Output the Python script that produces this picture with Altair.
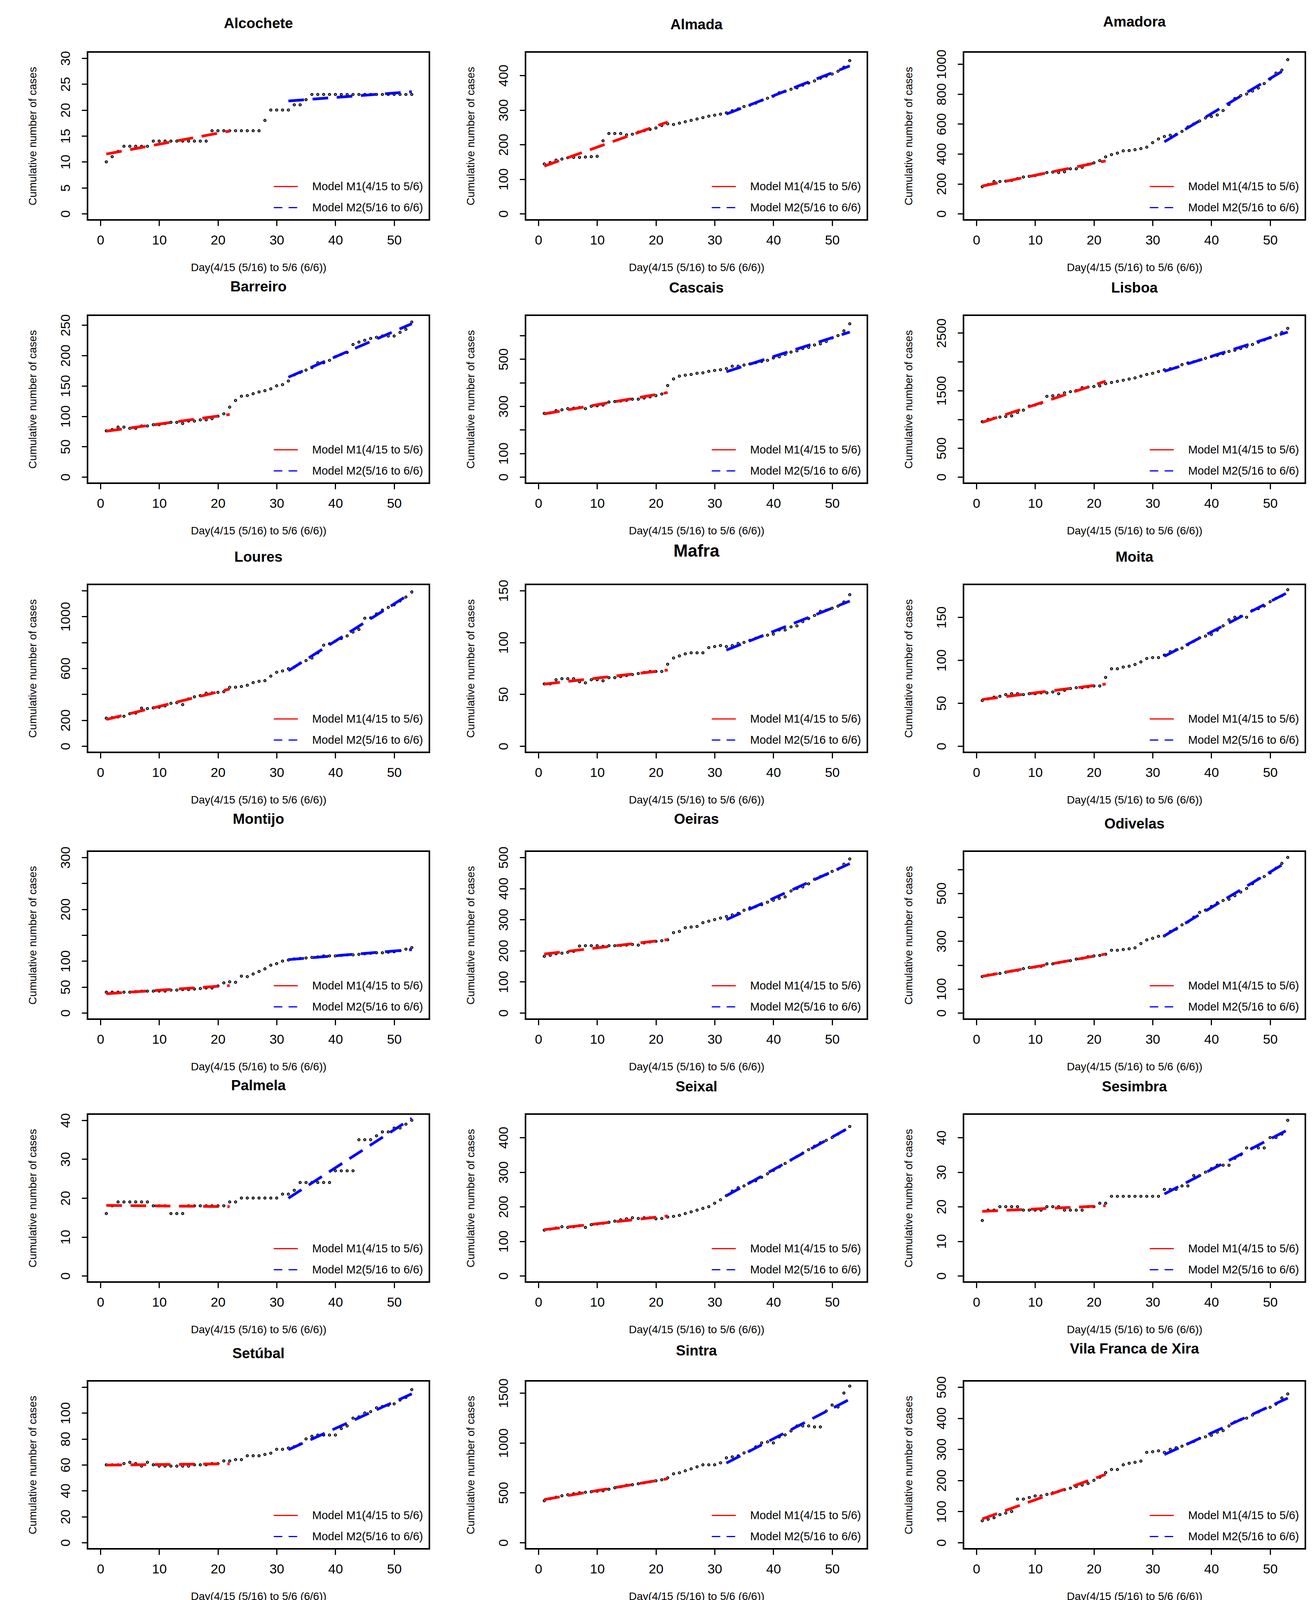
import altair as alt
import pandas as pd

days = list(range(1, 54))

names = ["Alcochete", "Almada", "Amadora",
         "Barreiro", "Cascais", "Lisboa",
         "Loures", "Mafra", "Moita",
         "Montijo", "Oeiras", "Odivelas",
         "Palmela", "Seixal", "Sesimbra",
         "Setúbal", "Sintra", "Vila Franca de Xira"]

alcochete = [10, 11, 12, 13, 13, 13, 13, 13, 14, 14, 14, 14, 14, 14, 14, 14, 14, 14, 16, 16,
             16, 16, 16, 16, 16, 16, 16, 18, 20, 20, 20, 20, 21, 21, 22, 23, 23, 23, 23, 23,
             23, 23, 23, 23, 23, 23, 23, 23, 23, 23, 23, 23, 23]
almada = [144, 148, 155, 158, 162, 163, 163, 164, 165, 166, 211, 232, 232, 232, 228, 230, 236, 240, 244, 248,
          255, 260, 258, 262, 266, 270, 274, 278, 282, 285, 288, 292, 298, 303, 310, 314, 320, 328, 334, 340,
          350, 354, 360, 364, 372, 378, 384, 392, 398, 404, 412, 424, 443]
amadora = [180, 195, 215, 215, 218, 222, 235, 245, 250, 255, 265, 275, 278, 275, 280, 300, 300, 310, 330, 340,
           355, 380, 395, 405, 420, 422, 428, 435, 445, 475, 500, 516, 525, 530, 550, 580, 600, 620, 640, 650,
           660, 690, 730, 770, 790, 800, 820, 840, 870, 900, 940, 960, 1030]
barreiro = [76, 78, 82, 82, 80, 80, 84, 84, 86, 86, 88, 90, 90, 88, 92, 92, 94, 94, 96, 100,
            104, 115, 126, 133, 134, 137, 140, 142, 145, 150, 152, 158, 168, 172, 176, 180, 188, 188, 192, 198,
            202, 205, 218, 222, 225, 228, 230, 232, 232, 232, 238, 243, 255]
cascais = [270, 272, 282, 285, 290, 292, 295, 290, 300, 302, 305, 318, 320, 322, 325, 330, 330, 335, 340, 345,
           352, 388, 416, 428, 432, 435, 440, 442, 448, 452, 455, 460, 470, 470, 475, 480, 485, 490, 495, 505,
           510, 520, 530, 535, 545, 550, 560, 565, 575, 590, 600, 620, 650]
lisboa = [960, 1000, 1020, 1040, 1050, 1060, 1120, 1160, 1230, 1250, 1280, 1400, 1410, 1420, 1460, 1480, 1500, 1550, 1560, 1570,
          1580, 1620, 1640, 1660, 1680, 1700, 1720, 1750, 1780, 1800, 1830, 1860, 1880, 1900, 1950, 1980, 2000, 2030, 2060, 2090,
          2110, 2140, 2180, 2200, 2230, 2260, 2300, 2340, 2380, 2420, 2460, 2510, 2580]
loures = [216, 220, 225, 230, 250, 255, 293, 290, 295, 300, 310, 330, 335, 320, 364, 380, 390, 408, 410, 415,
          420, 454, 455, 460, 470, 490, 500, 505, 540, 570, 580, 597, 610, 640, 660, 680, 720, 779, 790, 810,
          830, 850, 880, 900, 987, 990, 1020, 1050, 1070, 1090, 1120, 1150, 1190]
mafra = [60, 60, 64, 65, 65, 65, 62, 61, 64, 64, 63, 66, 66, 67, 68, 69, 70, 71, 72, 72,
         72, 79, 85, 87, 89, 90, 90, 90, 95, 96, 97, 96, 97, 99, 100, 102, 104, 106, 107, 108,
         112, 112, 115, 116, 120, 123, 126, 130, 131, 133, 135, 139, 146]
moita = [53, 55, 57, 58, 60, 61, 61, 60, 61, 61, 62, 62, 63, 61, 65, 67, 68, 68, 69, 70,
         70, 80, 90, 90, 92, 93, 95, 98, 102, 103, 103, 106, 110, 112, 114, 118, 122, 126, 128, 130,
         135, 140, 147, 150, 151, 150, 158, 160, 163, 168, 172, 175, 182]
montijo = [40, 40, 40, 40, 40, 41, 42, 42, 42, 42, 42, 44, 44, 45, 45, 46, 47, 48, 48, 52,
           58, 60, 59, 71, 70, 75, 80, 85, 92, 95, 100, 102, 104, 105, 106, 107, 108, 110, 110, 110,
           111, 112, 112, 113, 114, 115, 116, 116, 117, 118, 120, 123, 126]
oeiras = [182, 185, 190, 192, 195, 198, 215, 216, 216, 216, 214, 216, 216, 217, 218, 220, 218, 225, 228, 230,
          232, 235, 258, 262, 274, 276, 278, 290, 295, 300, 305, 310, 315, 320, 330, 338, 342, 348, 356, 362,
          368, 373, 392, 400, 405, 415, 430, 438, 445, 455, 462, 478, 495]
odivelas = [152, 158, 162, 165, 170, 175, 178, 185, 190, 192, 195, 205, 205, 210, 215, 218, 225, 228, 235, 238,
            240, 245, 262, 262, 265, 268, 272, 290, 305, 312, 320, 322, 340, 350, 368, 380, 400, 420, 430, 445,
            460, 470, 475, 490, 505, 520, 540, 560, 570, 585, 605, 625, 650]
palmela = [16, 18, 19, 19, 19, 19, 19, 19, 18, 18, 18, 16, 16, 16, 18, 18, 18, 18, 18, 18,
           18, 19, 19, 20, 20, 20, 20, 20, 20, 20, 21, 21, 22, 24, 24, 24, 24, 24, 24, 27,
           27, 27, 27, 35, 35, 35, 36, 37, 37, 38, 38, 39, 40]
seixal = [132, 135, 138, 142, 140, 142, 145, 140, 148, 150, 152, 155, 158, 162, 165, 168, 166, 168, 168, 165,
          166, 170, 172, 175, 180, 185, 190, 195, 200, 210, 220, 232, 245, 255, 260, 270, 275, 285, 295, 305,
          315, 325, 335, 345, 355, 365, 375, 385, 392, 400, 410, 420, 432]
sesimbra = [16, 19, 19, 20, 20, 20, 20, 19, 19, 19, 19, 20, 20, 20, 19, 19, 19, 19, 20, 20,
            21, 21, 23, 23, 23, 23, 23, 23, 23, 23, 23, 25, 25, 25, 26, 26, 29, 29, 30, 31,
            32, 32, 32, 34, 35, 37, 37, 37, 37, 40, 40, 41, 45]
setubal = [60, 60, 60, 61, 62, 61, 59, 62, 60, 59, 59, 59, 59, 59, 59, 60, 60, 60, 61, 61,
           63, 63, 64, 64, 67, 67, 67, 68, 69, 72, 72, 73, 74, 76, 80, 82, 83, 83, 83, 83,
           88, 90, 96, 97, 100, 101, 104, 105, 106, 107, 110, 112, 118]
sintra = [420, 440, 455, 470, 480, 490, 500, 505, 510, 515, 520, 535, 550, 560, 575, 580, 590, 600, 610, 620,
          630, 650, 690, 700, 720, 740, 760, 780, 780, 780, 800, 850, 860, 870, 900, 920, 960, 1000, 1010, 1000,
          1060, 1080, 1120, 1170, 1170, 1170, 1160, 1160, 1320, 1380, 1360, 1500, 1570]
vfx = [70, 75, 80, 90, 95, 100, 140, 140, 145, 150, 150, 155, 160, 165, 170, 175, 180, 185, 190, 200,
       210, 225, 235, 235, 250, 255, 258, 262, 290, 292, 295, 290, 300, 305, 310, 318, 325, 335, 340, 345,
       355, 360, 375, 388, 395, 400, 410, 420, 430, 435, 445, 465, 478]

series = [alcochete, almada, amadora, barreiro, cascais, lisboa, loures, mafra, moita,
          montijo, oeiras, odivelas, palmela, seixal, sesimbra, setubal, sintra, vfx]

y_max = [30, 450, 1040, 256, 660, 2700, 1200, 150, 181, 300, 500, 650, 40, 450, 45, 120, 1560, 500]
y_step = [5, 100, 200, 50, 100, 500, 200, 50, 50, 50, 100, 100, 10, 100, 10, 20, 500, 100]
y_top_tick = [30, 400, 1000, 250, 600, 2500, 1200, 150, 150, 300, 500, 600, 40, 400, 40, 120, 1500, 500]
y_labels = [[0, 5, 10, 15, 20, 25, 30], [0, 100, 200, 300, 400], [0, 200, 400, 600, 800, 1000],
            [0, 50, 100, 150, 200, 250], [0, 100, 300, 500], [0, 500, 1500, 2500],
            [0, 200, 600, 1000], [0, 50, 100, 150], [0, 50, 100, 150],
            [0, 50, 100, 200, 300], [0, 100, 200, 300, 400, 500], [0, 100, 300, 500],
            [0, 10, 20, 30, 40], [0, 100, 200, 300, 400], [0, 10, 20, 30, 40],
            [0, 20, 40, 60, 80, 100], [0, 500, 1000, 1500], [0, 100, 200, 300, 400, 500]]
x_ticks = [0, 10, 20, 30, 40, 50]

m1_label = "Model M1(4/15 to 5/6)"
m2_label = "Model M2(5/16 to 6/6)"
x_title = "Day(4/15 (5/16) to 5/6 (6/6))"
y_title = "Cumulative number of cases"

FONT = "Liberation Sans"
W, H = 875, 430


def panel(i):
    df = pd.DataFrame({"day": days, "cases": series[i]})
    ymax = y_max[i]
    xscale = alt.Scale(domain=[-2.2, 56], nice=False, zero=False)
    yscale = alt.Scale(domain=[-0.04 * ymax, 1.04 * ymax], nice=False, zero=False)
    ticks = list(range(0, y_top_tick[i] + 1, y_step[i]))
    expr = "indexof([%s], datum.value) >= 0 ? datum.label : ''" % ",".join(str(v) for v in y_labels[i])
    xaxis = alt.Axis(values=x_ticks, title=x_title, format="d", domain=False, grid=False, ticks=True,
                     tickSize=15, tickWidth=3, tickColor="black",
                     labelFont=FONT, labelFontSize=34, labelColor="black", labelPadding=20,
                     labelFlush=False, labelOverlap=False,
                     titleFont=FONT, titleFontSize=28, titleFontWeight="normal", titleColor="black",
                     titlePadding=38, minExtent=70, maxExtent=70)
    yaxis = alt.Axis(values=ticks, labelExpr=expr, title=y_title, format="d", domain=False, grid=False,
                     ticks=True, tickSize=15, tickWidth=3, tickColor="black",
                     labelAngle=270, labelAlign="center", labelBaseline="bottom",
                     labelFont=FONT, labelFontSize=34, labelColor="black", labelPadding=24,
                     labelFlush=False, labelOverlap=False,
                     titleFont=FONT, titleFontSize=28, titleFontWeight="normal", titleColor="black",
                     titlePadding=46, minExtent=80, maxExtent=80)
    X = alt.X("day:Q", scale=xscale, axis=xaxis)
    Y = alt.Y("cases:Q", scale=yscale, axis=yaxis)
    legend = alt.Legend(
        title=None, orient="bottom-right", offset=12, padding=4,
        symbolType="stroke", symbolSize=3800, symbolStrokeWidth=3,
        labelFont=FONT, labelFontSize=29, labelColor="black", labelOffset=35,
        labelLimit=600,
    )
    color = alt.Color(
        "model:N",
        scale=alt.Scale(domain=[m1_label, m2_label], range=["#ff0000", "#0000ff"]),
        legend=legend,
    )
    dash = alt.StrokeDash(
        "model:N",
        scale=alt.Scale(domain=[m1_label, m2_label], range=[[1, 0], [22, 16]]),
        legend=legend,
    )
    base = alt.Chart(df)
    pts = base.mark_point(shape="circle", filled=False, size=28, strokeWidth=2.6,
                          color="black", opacity=1).encode(x=X, y=Y)
    m1 = (base.transform_filter("datum.day <= 22")
          .transform_regression("day", "cases", method="linear", extent=[1, 22])
          .transform_calculate(model="'%s'" % m1_label)
          .mark_line(strokeWidth=7, strokeDash=[40, 22], strokeCap="butt")
          .encode(x=X, y=Y, color=color))
    m2 = (base.transform_filter("datum.day >= 32")
          .transform_regression("day", "cases", method="linear", extent=[32, 53])
          .transform_calculate(model="'%s'" % m2_label)
          .mark_line(strokeWidth=7, strokeDash=[40, 22], strokeCap="butt")
          .encode(x=X, y=Y, color=color))
    key = (base.transform_filter("datum.day < 0")
           .transform_calculate(model="'%s'" % m1_label)
           .mark_line(strokeWidth=3)
           .encode(x=X, y=Y, color=color, strokeDash=dash))
    tsize = 44 if names[i] == "Mafra" else 37
    return alt.layer(pts, m1, m2, key).properties(
        width=W, height=H,
        title=alt.TitleParams(names[i], font=FONT, fontSize=tsize, fontWeight="bold",
                              color="black", anchor="middle", frame="group", offset=50),
    )


rows = []
for r in range(6):
    row = alt.hconcat(*[panel(3 * r + c) for c in range(3)], spacing=88)
    row = (row.resolve_scale(color="independent", strokeDash="independent")
           .resolve_legend(color="independent", strokeDash="independent"))
    rows.append(row)

chart = (alt.vconcat(*rows, spacing=12)
         .resolve_scale(color="independent", strokeDash="independent")
         .resolve_legend(color="independent", strokeDash="independent")
         .properties(padding={"left": 60, "top": 28, "right": 5, "bottom": 5},
                     background="white")
         .configure_view(stroke="black", strokeWidth=4)
         .configure_legend(rowPadding=6))

chart.save("out.html", embed_options={"renderer": "svg", "actions": False})
